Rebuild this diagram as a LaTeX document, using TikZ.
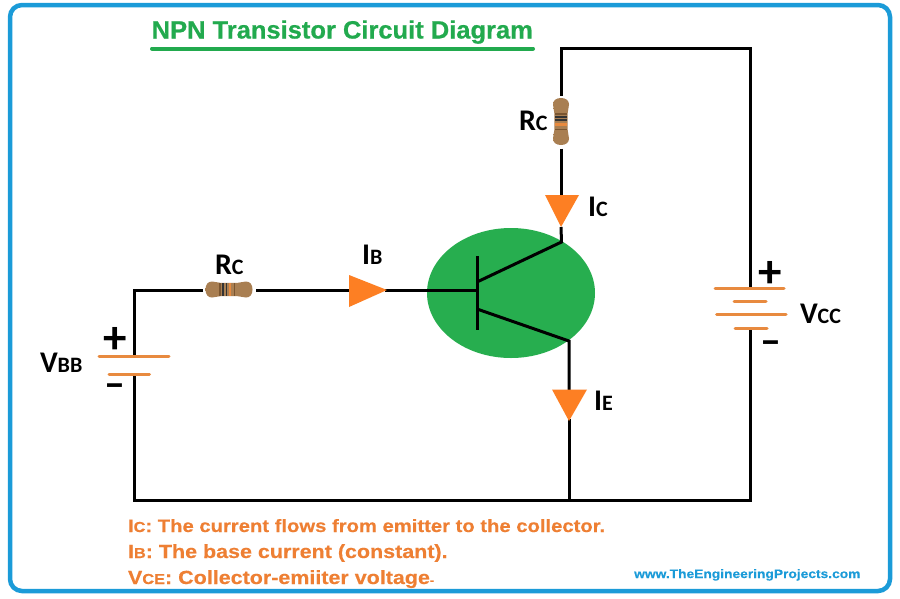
\documentclass[tikz,border=0pt]{standalone}
\usepackage{fontspec}
\usetikzlibrary{shapes.geometric}
\setmainfont{Liberation Sans}
\newfontfamily\titlefont{Liberation Sans}[BoldFeatures={FakeStretch=1.02,FakeBold=0.6}]
\newfontfamily\widefont{Liberation Sans}[BoldFeatures={FakeStretch=1.13,FakeBold=0.35}]
\newfontfamily\labfont{Carlito}
\definecolor{framecol}{HTML}{1B9BD8}
\definecolor{titlecol}{HTML}{22AA4E}
\definecolor{bulbcol}{HTML}{27AE4F}
\definecolor{arrowcol}{HTML}{FD7F23}
\definecolor{platecol}{HTML}{E88A3F}
\definecolor{textcol}{HTML}{EE7F33}
\definecolor{restan}{HTML}{D2A878}
\definecolor{resedge}{HTML}{A97F52}
\definecolor{resdark}{HTML}{7A5530}
\newcommand{\sz}[1]{\fontsize{#1}{#1}\selectfont}
\newcommand{\lab}[2]{{\sz{30}#1}{\sz{22}#2}}
\newcommand{\orangeline}[3]{{\sz{#3}#1}{\sz{14.5}#2}}
\newcommand{\dumbbell}{%
  \shade[top color=resedge,middle color=restan,bottom color=resedge]
    (-23.5,0) .. controls (-23.5,-5) and (-21,-8) .. (-17,-8)
    .. controls (-13,-8) and (-12,-6.6) .. (-8,-6.6)
    -- (8,-6.6) .. controls (12,-6.6) and (13,-8) .. (17,-8)
    .. controls (21,-8) and (23.5,-5) .. (23.5,0)
    .. controls (23.5,5) and (21,8) .. (17,8)
    .. controls (13,8) and (12,6.6) .. (8,6.6)
    -- (-8,6.6) .. controls (-12,6.6) and (-13,8) .. (-17,8)
    .. controls (-21,8) and (-23.5,5) .. (-23.5,0) -- cycle;}
\tikzset{
  wire/.style={draw=black,line width=3pt,line cap=butt,line join=miter},
  tbar/.style={draw=black,line width=3pt,line cap=butt},
  plate/.style={draw=platecol,line width=3pt,line cap=round},
  current/.style={fill=arrowcol,draw=none},
  tag/.style={anchor=base west,inner sep=0pt,outer sep=0pt,font=\labfont\bfseries,text=black},
  sign/.style={anchor=center,inner sep=0pt,outer sep=0pt,font=\labfont\bfseries,text=black},
  note/.style={anchor=base west,inner sep=0pt,outer sep=0pt,font=\widefont\bfseries,text=textcol},
  resbox/.style={draw=none,inner sep=0pt,outer sep=0pt}
}
\begin{document}
\begin{tikzpicture}[x=1pt,y=-1pt]
\useasboundingbox (0,0) rectangle (900,598);
\fill[white] (0,0) rectangle (900,598);
% frame
\node[draw=framecol,line width=4.5pt,rounded corners=12pt,minimum width=880pt,minimum height=586pt,inner sep=0pt,outer sep=0pt] (frame) at (450,298) {};
% title
\node[anchor=base west,inner sep=0pt,text=titlecol,font=\titlefont\bfseries\sz{25}] (title) at (151.5,38.5) {NPN Transistor Circuit Diagram};
\coordinate (ula) at (152,48.5); \coordinate (ulb) at (533,48.5);
\draw[titlecol,line width=4pt,line cap=round] (ula) -- (ulb);
% transistor body
\node[ellipse,fill=bulbcol,draw=none,minimum width=168pt,minimum height=130pt,inner sep=0pt] (bulb) at (511,293) {};
% resistors
\node[resbox,minimum width=16pt,minimum height=53pt] (rtop) at (561,122) {};
\node[resbox,minimum width=53pt,minimum height=17pt] (rleft) at (229.5,290) {};
\begin{scope}[shift={(561,121.5)},rotate=90]
  \dumbbell
\end{scope}
\begin{scope}[shift={(229,289.5)}]
  \dumbbell
\end{scope}
\fill[resdark] (555,113) rectangle (567,114.5);
\fill[black!80] (555,116) rectangle (567,117.5);
\fill[black!80] (555,119) rectangle (567,120.5);
\fill[platecol] (555,123) rectangle (567,126);
\fill[resdark] (555,128.5) rectangle (567,129.5);
\fill[resdark] (219,283) rectangle (220.5,296);
\fill[black!80] (222,283) rectangle (223.5,296);
\fill[black!80] (225.5,283) rectangle (227,296);
\fill[platecol] (228.5,283) rectangle (231,296);
\fill[resdark] (234,283) rectangle (235,296);
% junctions
\coordinate (tl) at (561,48); \coordinate (tr) at (750,48);
\coordinate (bl) at (134,500); \coordinate (br) at (750,500);
\coordinate (be) at (569,500); \coordinate (lc) at (134,290);
\coordinate (arrC) at (561,227); \coordinate (arrCt) at (561,195);
\coordinate (coll) at (561.5,242); \coordinate (collb) at (477,282);
\coordinate (emi) at (569,341); \coordinate (emib) at (477,309);
\coordinate (arrEt) at (569,390); \coordinate (arrE) at (569,419);
\coordinate (arrB) at (385,290); \coordinate (arrBt) at (350,290);
\coordinate (base) at (477,290); \coordinate (bartop) at (477,256); \coordinate (barbot) at (477,330);
\coordinate (v1) at (134,356.5); \coordinate (v2) at (134,374.5);
\coordinate (c1) at (750,288); \coordinate (c4) at (750,328);
% wires
\draw[wire] (rtop.north) -- (tl) -- (tr) -- (c1);
\draw[wire] (rtop.south) -- (arrCt);
\draw[wire] (arrC) -- (coll) -- (collb);
\draw[wire] (emib) -- (emi) -- (arrEt);
\draw[wire] (arrE) -- (be);
\draw[wire] (rleft.east) -- (arrBt);
\draw[wire] (arrB) -- (base);
\draw[wire] (rleft.west) -- (lc) -- (v1);
\draw[wire] (v2) -- (bl) -- (br) -- (c4);
\draw[tbar] (bartop) -- (barbot);
% batteries
\coordinate (p1a) at (99,356.5); \coordinate (p1b) at (169,356.5);
\coordinate (p2a) at (109,374.5); \coordinate (p2b) at (149.5,374.5);
\draw[plate] (p1a) -- (p1b);
\draw[plate] (p2a) -- (p2b);
\coordinate (q1a) at (715,288); \coordinate (q1b) at (784,288);
\coordinate (q2a) at (734,301); \coordinate (q2b) at (766,301);
\coordinate (q3a) at (716.5,314); \coordinate (q3b) at (786,314);
\coordinate (q4a) at (735,328); \coordinate (q4b) at (767,328);
\draw[plate] (q1a) -- (q1b);
\draw[plate] (q2a) -- (q2b);
\draw[plate] (q3a) -- (q3b);
\draw[plate] (q4a) -- (q4b);
% current arrows
\fill[current] (545,195) -- (579,195) -- (arrC) -- cycle;
\fill[current] (552,389.5) -- (587,389.5) -- (569,421) -- cycle;
\fill[current] (349,275) -- (349,307) -- (387,290) -- cycle;
% labels
\node[tag] (lrc1) at (519,130) {\lab{R}{C}};
\node[tag] (lrc2) at (215,274) {\lab{R}{C}};
\node[tag] (lib) at (362,264) {\lab{I}{B}};
\node[tag] (lic) at (588,216) {\lab{I}{C}};
\node[tag] (lie) at (594,410) {\lab{I}{E}};
\node[tag] (lvb) at (40,372) {\lab{V}{BB}};
\node[tag] (lvc) at (800,323) {\lab{V}{CC}};
\node[sign,font=\labfont\bfseries\sz{47}] (pl1) at (115.5,340) {+};
\node[sign,font=\labfont\bfseries\sz{47}] (pl2) at (770,274) {+};
\node[sign,font=\labfont\bfseries\sz{42}] (mi1) at (115,391) {–};
\node[sign,font=\labfont\bfseries\sz{42}] (mi2) at (771,348) {–};
% notes
\node[note] (n1) at (128,532) {\orangeline{I}{C}{17.9}{\sz{17.9}: The current flows from emitter to the collector.}};
\node[note] (n2) at (128,558) {\orangeline{I}{B}{19}{\sz{19}: The base current (constant).}};
\node[note] (n3) at (128,584) {\orangeline{V}{CE}{19}{\sz{19}: Collector-emiiter voltage{\sz{11}-}}};
\node[anchor=base west,inner sep=0pt,text=framecol,font=\widefont\bfseries\sz{12.2}] (web) at (634,578) {www.TheEngineeringProjects.com};
\end{tikzpicture}
\end{document}
